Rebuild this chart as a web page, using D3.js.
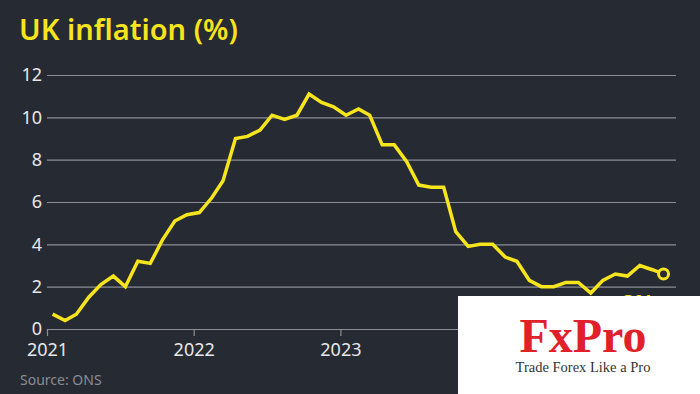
<!DOCTYPE html>
<html>
<head>
<meta charset="utf-8">
<script src="https://d3js.org/d3.v7.min.js"></script>
<style>
  body { margin: 0; background: #262a33; }
  svg { display: block; }
</style>
</head>
<body>
<svg width="700" height="394"></svg>
<script>
// monthly CPI, Jan 2021 .. Mar 2025
var startYear = 2021;
var cpi = [
  0.7, 0.4, 0.7, 1.5, 2.1, 2.5, 2.0, 3.2, 3.1, 4.2, 5.1, 5.4,
  5.5, 6.2, 7.0, 9.0, 9.1, 9.4, 10.1, 9.9, 10.1, 11.1, 10.7, 10.5,
  10.1, 10.4, 10.1, 8.7, 8.7, 7.9, 6.8, 6.7, 6.7, 4.6, 3.9, 4.0,
  4.0, 3.4, 3.2, 2.3, 2.0, 2.0, 2.2, 2.2, 1.7, 2.3, 2.6, 2.5,
  3.0, 2.8, 2.6
];
var yTicks = [0, 2, 4, 6, 8, 10, 12];
var xTickYears = [2021, 2022, 2023, 2024, 2025];

var data = cpi.map(function(v, i) {
  return { date: new Date(Date.UTC(startYear, i, 15)), value: v };
});

var svg = d3.select("svg");
var yellow = "#f6e41c";

var x = d3.scaleUtc()
  .domain([new Date(Date.UTC(2021, 0, 1)), new Date(Date.UTC(2025, 3, 15))])
  .range([47, 676]);
var y = d3.scaleLinear().domain([0, 12]).range([329, 75]);

// gridlines + y labels
var yAxis = d3.axisLeft(y).tickValues(yTicks).tickSize(-(676 - 47)).tickFormat(d3.format("d"));
var gy = svg.append("g").attr("transform", "translate(47,0)").call(yAxis);
gy.select(".domain").remove();
gy.selectAll("line").attr("stroke", "#8c8e94").attr("stroke-width", 1.2);
gy.selectAll("text")
  .attr("x", -5)
  .attr("fill", "#e6e7e9")
  .style("font-family", "'Noto Sans', sans-serif")
  .style("font-size", "18px");

// x axis, ticks hang below the zero line
var xAxis = d3.axisBottom(x)
  .tickValues(xTickYears.map(function(yr) { return new Date(Date.UTC(yr, 0, 1)); }))
  .tickSize(7)
  .tickFormat(d3.utcFormat("%Y"));
var gx = svg.append("g").attr("transform", "translate(0,329)").call(xAxis);
gx.select(".domain").remove();
gx.selectAll("line").attr("stroke", "#8c8e94").attr("stroke-width", 1.2);
gx.selectAll("text")
  .attr("y", 14)
  .attr("fill", "#e6e7e9")
  .style("font-family", "'Noto Sans', sans-serif")
  .style("font-size", "18px");

// line
var line = d3.line()
  .x(function(d) { return x(d.date); })
  .y(function(d) { return y(d.value); });

svg.append("path")
  .datum(data)
  .attr("d", line)
  .attr("fill", "none")
  .attr("stroke", yellow)
  .attr("stroke-width", 3.5)
  .attr("stroke-linejoin", "miter");

var last = data[data.length - 1];
svg.append("circle")
  .attr("cx", x(last.date))
  .attr("cy", y(last.value))
  .attr("r", 5)
  .attr("fill", "#262a33")
  .attr("stroke", yellow)
  .attr("stroke-width", 3);

// target label (mostly hidden behind the logo)
svg.append("text")
  .attr("x", 622)
  .attr("y", 310)
  .attr("fill", yellow)
  .style("font-family", "'Noto Sans', sans-serif")
  .style("font-weight", "bold")
  .style("font-size", "22px")
  .text("2%");

// title and source
svg.append("text")
  .attr("x", 19)
  .attr("y", 40)
  .attr("fill", yellow)
  .style("font-family", "'Noto Sans', sans-serif")
  .style("font-weight", "600")
  .style("font-size", "29px")
  .text("UK inflation (%)");

svg.append("text")
  .attr("x", 20)
  .attr("y", 385)
  .attr("fill", "#8a8d93")
  .style("font-family", "'Noto Sans', sans-serif")
  .style("font-size", "14px")
  .text("Source: ONS");

// logo
var logo = svg.append("g");
logo.append("rect")
  .attr("x", 458).attr("y", 296)
  .attr("width", 242).attr("height", 98)
  .attr("fill", "#ffffff");
logo.append("text")
  .attr("x", 583).attr("y", 352)
  .attr("text-anchor", "middle")
  .attr("fill", "#e2202a")
  .style("font-family", "'Liberation Serif', serif")
  .style("font-weight", "bold")
  .style("font-size", "48px")
  .text("FxPro");
logo.append("text")
  .attr("x", 583).attr("y", 372)
  .attr("text-anchor", "middle")
  .attr("fill", "#333333")
  .style("font-family", "'Liberation Serif', serif")
  .style("font-size", "14.5px")
  .text("Trade Forex Like a Pro");
</script>
</body>
</html>
